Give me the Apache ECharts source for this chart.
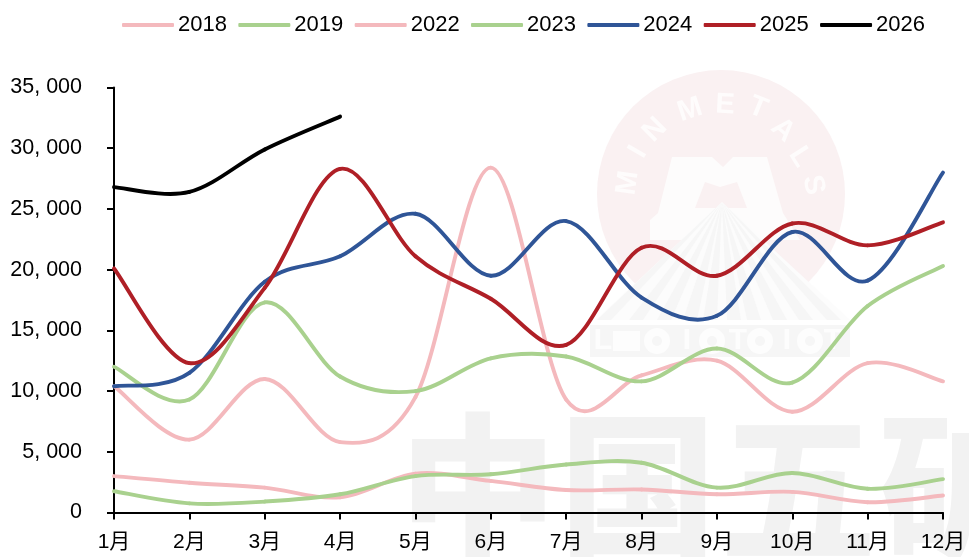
<!DOCTYPE html>
<html><head><meta charset="utf-8">
<style>html,body{margin:0;padding:0;background:#fff}#c{width:969px;height:557px}</style>
<script src="https://cdn.jsdelivr.net/npm/echarts@6/dist/echarts.min.js"></script>
</head><body><div id="c"></div>
<script>
var months = ['1月','2月','3月','4月','5月','6月','7月','8月','9月','10月','11月','12月'];
var s2018 = [3000,2450,2050,1250,3200,2600,1850,1900,1500,1700,850,1400];
var s2019 = [1750,750,900,1500,3000,3150,3950,4100,2050,3250,1950,2750];
var s2022 = [10400,6000,11000,5800,9500,28400,9300,11300,12500,8300,12300,10800];
var s2023 = [12000,9300,17300,11200,10000,12700,12850,10800,13500,10700,17000,20300];
var s2024 = [10400,11500,19000,21100,24600,19500,24000,17700,16200,23100,19100,28000];
var s2025 = [20100,12300,18500,28300,21100,17600,13800,21800,19500,23800,22000,23900];
var s2026 = [26800,26400,29900,32600];
var PINK='#F4B9BD', GREEN='#A9D18E', BLUE='#2F5597', RED='#AF1F26', BLACK='#000000';
var FONT='"Liberation Sans","Noto Sans CJK SC",sans-serif';

// Excel-style smoothed line: a Catmull-Rom segment per data point, through the axes' own scales.
function line(name,values,color){
  return {name:name,type:'custom',coordinateSystem:'cartesian2d',
    data:values.map(function(v,i){return [i,v];}),encode:{x:0,y:1},
    itemStyle:{color:color},silent:true,z:3,clip:false,
    renderItem:function(params,api){
      var i=params.dataIndex, n=values.length;
      if(i>=n-1) return {type:'group',children:[]};
      var pt=function(k){k=Math.max(0,Math.min(n-1,k));return api.coord([k,values[k]]);};
      var a=pt(i-1),b=pt(i),c=pt(i+1),d=pt(i+2);
      return {type:'bezierCurve',
        shape:{x1:b[0],y1:b[1],x2:c[0],y2:c[1],
          cpx1:b[0]+(c[0]-a[0])/6,cpy1:b[1]+(c[1]-a[1])/6,
          cpx2:c[0]-(d[0]-b[0])/6,cpy2:c[1]-(d[1]-b[1])/6},
        style:{fill:null,stroke:color,lineWidth:3.9,lineCap:'round'}};
    }};
}
// background watermark (decoration only)
var wm=[];
function add(o){o.silent=true;o.z=0;wm.push(o);}
add({type:'circle',shape:{cx:721,cy:194,r:124},style:{fill:'#FAF1F2'}});
add({type:'polygon',shape:{points:[[672,157],[712,157],[723,167],[733,157],[767,157],[783,213],[800,240],[650,240],[650,220],[658,213]]},style:{fill:'#FDFCFC'}});
add({type:'polygon',shape:{points:[[705,182],[720,187],[737,182],[747,208],[695,208]]},style:{fill:'#FAF1F2'}});
add({type:'polygon',shape:{points:[[722,202],[596,320],[850,320]]},style:{fill:'#FCFCFC'}});
[604,636,664,690,710,734,754,780,806,834].forEach(function(x){
  add({type:'polygon',shape:{points:[[722,202],[x-7,320],[x+7,320]]},style:{fill:'#F6F6F6'}});
});
add({type:'rect',shape:{x:590,y:325,width:260,height:32},style:{fill:'#F6F6F6'}});
add({type:'rect',shape:{x:613,y:331,width:27,height:20},style:{fill:'#FDFDFD'}});
[['L',603],['I',687],['T',738],['I',787],['T',833]].forEach(function(p){
  add({type:'text',style:{text:p[0],x:p[1],y:341,fill:'#FDFDFD',font:'bold 30px "Liberation Sans"',align:'center',verticalAlign:'middle'}});
});
[657,712,760,810].forEach(function(x){
  add({type:'circle',shape:{cx:x,cy:341,r:13},style:{fill:'#FDFDFD'}});
  add({type:'circle',shape:{cx:x,cy:341,r:5},style:{fill:'#F6F6F6'}});
});
[['M',628,183,82],['I',638,152,60],['N',655,130,45],['M',690,110,18],['E',725,105,-3],['T',758,108,-22],['A',783,130,-42],['L',800,157,-58],['S',813,185,-78]].forEach(function(p){
  add({type:'text',x:p[1],y:p[2],rotation:p[3]*Math.PI/180,style:{text:p[0],x:0,y:0,fill:'#FEFCFC',font:'bold 29px "Liberation Sans"',align:'center',verticalAlign:'middle'}});
});
[['中',478],['国',638],['五',798],['矿',958]].forEach(function(p){
  add({type:'text',style:{text:p[0],x:p[1],y:487,fill:'#F2F2F2',font:'900 158px "Noto Sans CJK SC"',align:'center',verticalAlign:'middle'}});
});

var chart=echarts.init(document.getElementById('c'),null,{renderer:'canvas'});
chart.setOption({
  animation:false,backgroundColor:'#fff',
  graphic:{elements:wm},
  legend:{top:14,left:122,padding:0,itemWidth:52,itemHeight:4,itemGap:11.4,icon:'roundRect',
    textStyle:{fontSize:22,color:'#000',fontFamily:FONT,padding:[0,0,0,-1]},
    data:['2018','2019','2022','2023','2024','2025','2026']},
  grid:{left:114,right:26,top:87.5,bottom:44.5,containLabel:false},
  xAxis:{type:'category',data:months,boundaryGap:false,
    axisLine:{lineStyle:{color:'#000',width:2}},
    axisTick:{show:true,alignWithLabel:true,length:7,lineStyle:{color:'#000',width:2}},
    axisLabel:{color:'#000',fontSize:21,fontFamily:FONT,margin:19,interval:0,hideOverlap:false},
    splitLine:{show:false}},
  yAxis:{type:'value',min:0,max:35000,interval:5000,
    axisLine:{show:true,lineStyle:{color:'#000',width:2}},
    axisTick:{show:true,length:7,lineStyle:{color:'#000',width:2}},
    axisLabel:{color:'#000',fontSize:21.5,fontFamily:FONT,margin:32,
      formatter:function(v){return v===0?'0':Math.floor(v/1000)+', 000';}},
    splitLine:{show:false}},
  series:[line('2018',s2018,PINK),line('2019',s2019,GREEN),line('2022',s2022,PINK),line('2023',s2023,GREEN),
    line('2024',s2024,BLUE),line('2025',s2025,RED),line('2026',s2026,BLACK)]
});
</script></body></html>
